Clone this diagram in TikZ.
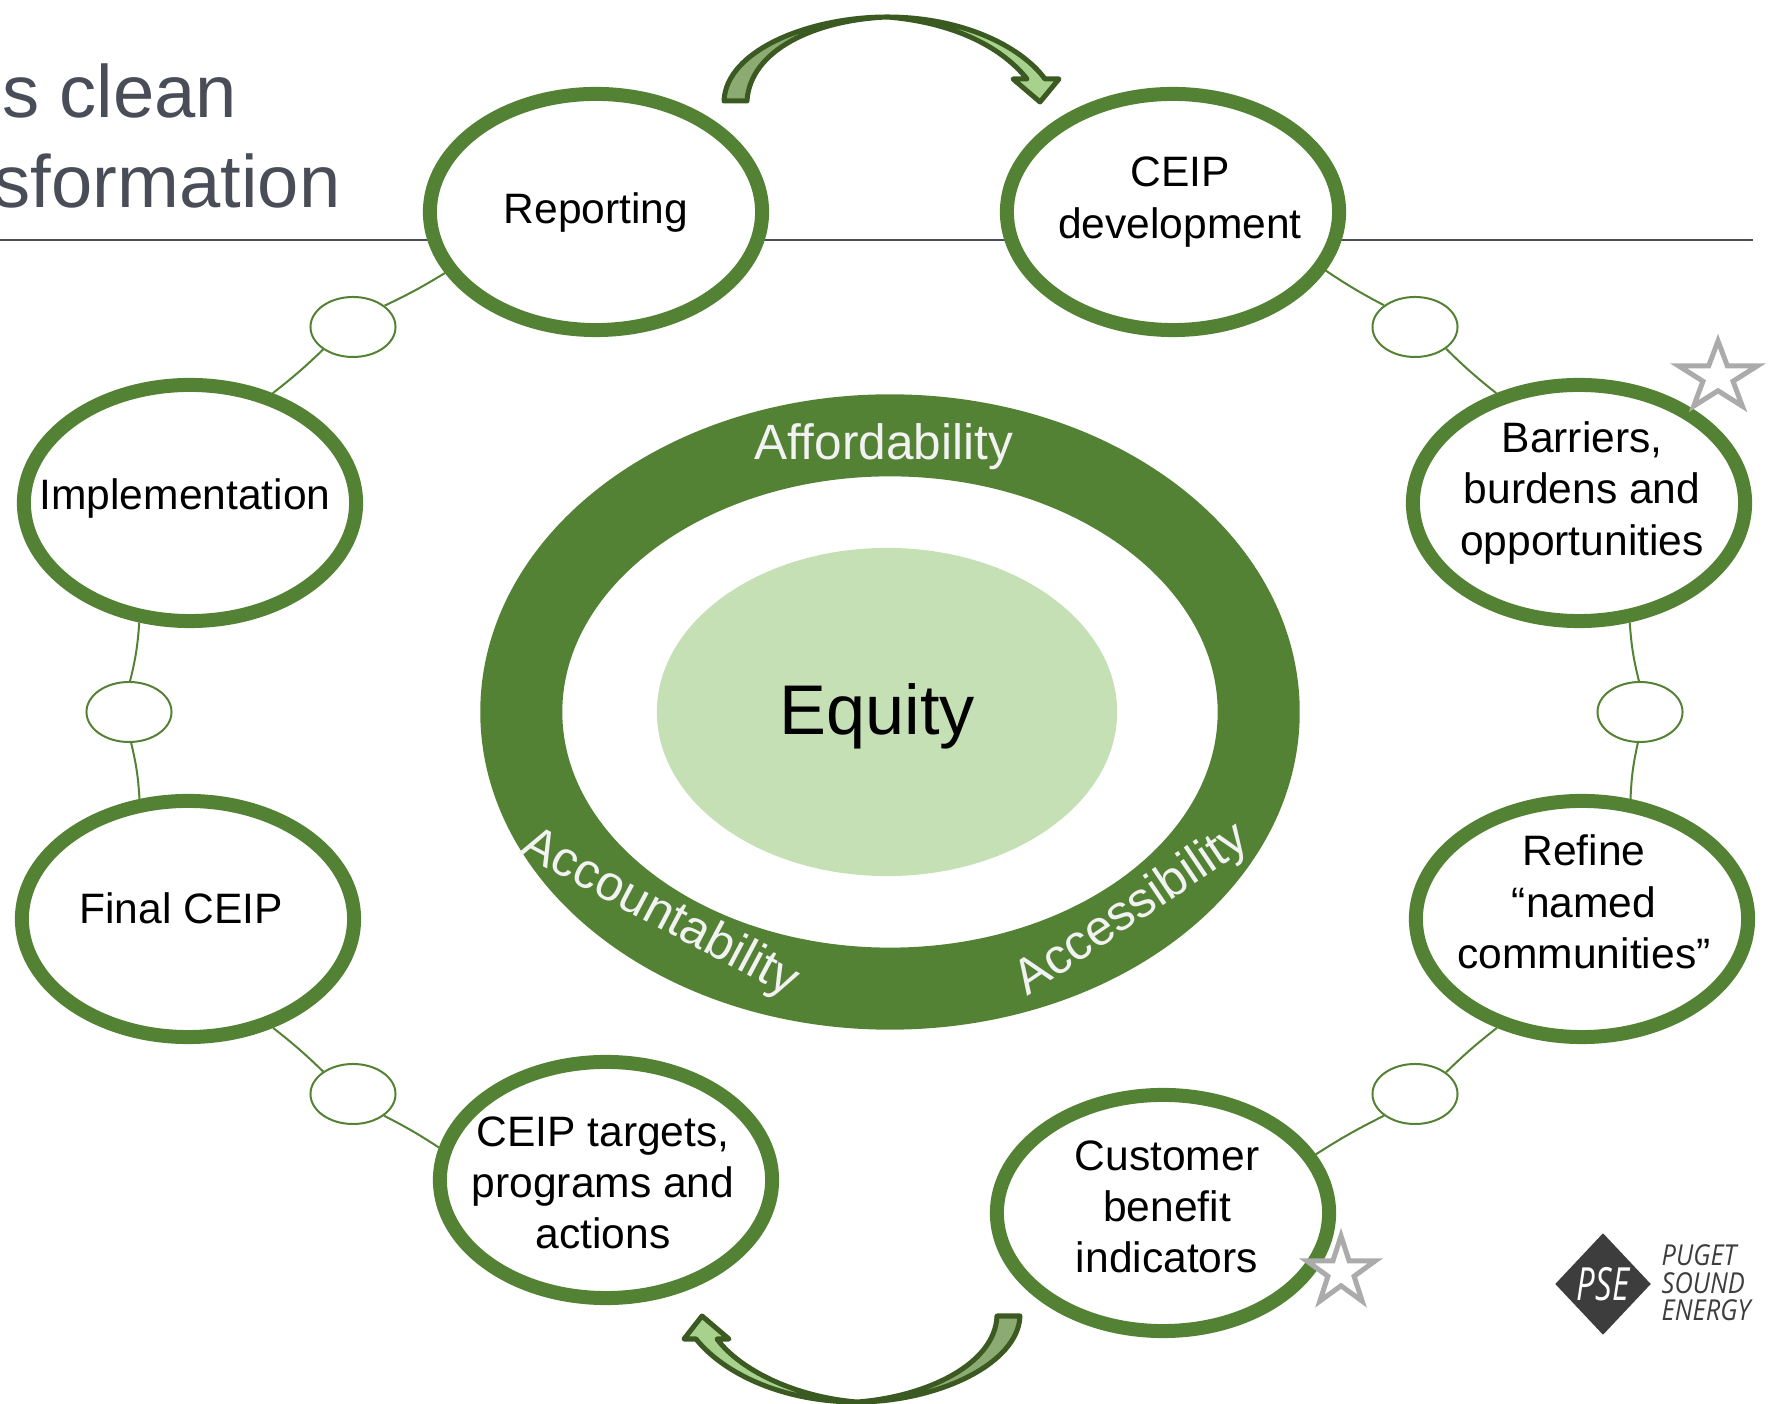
\documentclass[tikz,border=0pt]{standalone}
\usepackage{fontspec}
\setmainfont{Liberation Sans}
\newfontfamily\logofont{Open Sans}
\usepackage{tikz}
\usetikzlibrary{shapes.geometric}

\definecolor{ringgreen}{HTML}{548235}
\definecolor{palegreen}{HTML}{C5E0B4}
\definecolor{arrowdark}{HTML}{3B5A21}
\definecolor{arrowmid}{HTML}{8BAB73}
\definecolor{arrowlight}{HTML}{A9D18E}
\definecolor{titlegrey}{HTML}{494D57}
\definecolor{logogrey}{HTML}{3D3D3D}

\tikzset{
    stage/.style = {ellipse, draw = ringgreen, fill = white, line width = 0.14cm,
        minimum width = 3.32cm, minimum height = 2.36cm, inner sep = 0},
    stagetext/.style = {align = center, inner sep = 0,
        font = \fontsize{12.1}{14.6}\selectfont},
    linkoval/.style = {ellipse, draw = ringgreen, fill = white, line width = 0.02cm,
        minimum width = 0.85cm, minimum height = 0.6cm, inner sep = 0},
    linkline/.style = {draw = ringgreen, line width = 0.02cm},
    ringtext/.style = {text = white!95!black, inner sep = 0,
        font = \fontsize{14.1}{16}\selectfont},
    titletext/.style = {text = titlegrey, inner sep = 0,
        font = \fontsize{21.1}{25}\selectfont},
    starmark/.style = {star, star points = 5, star point ratio = 2.618, draw = black!33,
        fill = white, line width = 0.05cm, inner sep = 0, minimum size = 0.72cm},
    swoosh/.style = {draw = arrowdark, line width = 0.05cm, line join = round}
}

\begin{document}
\begin{tikzpicture} [x = 0.01cm, y = -0.01cm]
    \useasboundingbox (0, 0) rectangle (1772, 1404);

    % heading cut off by the slide edge
    \node[titletext, anchor = base east] (titleone) at (238, 118) {s clean};
    \node[titletext, anchor = base east] (titletwo) at (341, 208) {sformation};
    \draw[titlegrey, line width = 0.02cm] (0, 240) -- (1753, 240);

    % centre
    \node[ellipse, draw = ringgreen, line width = 0.82cm, minimum width = 7.37cm,
        minimum height = 5.53cm, inner sep = 0] (ring) at (890, 712) {};
    \node[ellipse, fill = palegreen, minimum width = 4.6cm, minimum height = 3.28cm,
        inner sep = 0] (equity) at (887, 712) {};
    \node[inner sep = 0, font = \fontsize{20}{24}\selectfont] (equitytext) at (877, 716) {Equity};
    \node[ringtext, anchor = base] (afford) at (884, 460) {Affordability};
    \node[ringtext, anchor = base west, rotate = -28] (account) at (518, 853) {Accountability};
    \node[ringtext, anchor = base west, rotate = 34] (access) at (1027, 997) {Accessibility};

    % stages
    \node[stage] (reporting) at (596, 212) {};
    \node[stage] (ceipdev) at (1173, 212) {};
    \node[stage] (barriers) at (1579, 503) {};
    \node[stage] (refine) at (1582, 919) {};
    \node[stage] (customer) at (1163, 1213) {};
    \node[stage] (targets) at (606, 1180) {};
    \node[stage] (final) at (188, 919) {};
    \node[stage] (impl) at (190, 503) {};

    \node[stagetext] (reportingtext) at (596, 213) {Reporting};
    \node[stagetext] (ceipdevtext) at (1180, 202) {CEIP\\development};
    \node[stagetext] (barrierstext) at (1582, 493) {Barriers,\\burdens and\\opportunities};
    \node[stagetext] (refinetext) at (1584, 902) {Refine\\``named\\communities''};
    \node[stagetext] (customertext) at (1167, 1207) {Customer\\benefit\\indicators};
    \node[stagetext] (targetstext) at (603, 1183) {CEIP targets,\\programs and\\actions};
    \node[stagetext] (finaltext) at (181, 908) {Final CEIP};
    \node[stagetext] (impltext) at (185, 499) {Implementation};

    % small ovals between stages
    \node[linkoval] (linka) at (353, 327) {};
    \node[linkoval] (linkb) at (1415, 327) {};
    \node[linkoval] (linkc) at (1640, 712) {};
    \node[linkoval] (linkd) at (129, 712) {};
    \node[linkoval] (linke) at (353, 1094) {};
    \node[linkoval] (linkf) at (1415, 1094) {};

    \draw[linkline] (impl.53) to[bend right = 3] (linka.217);
    \draw[linkline] (linka.34) to[bend right = 3] (reporting.202);
    \draw[linkline] (ceipdev.-21) to[bend right = 3] (linkb.145);
    \draw[linkline] (linkb.-35) to[bend right = 3] (barriers.127);
    \draw[linkline] (barriers.-67) to[bend right = 5] (linkc.92);
    \draw[linkline] (linkc.-94) to[bend right = 5] (refine.68);
    \draw[linkline] (refine.232) to[bend right = 3] (linkf.35);
    \draw[linkline] (linkf.215) to[bend right = 3] (customer.21);
    \draw[linkline] (targets.169) to[bend right = 3] (linke.-35);
    \draw[linkline] (linke.143) to[bend right = 3] (final.-52);
    \draw[linkline] (final.112) to[bend right = 5] (linkd.-86);
    \draw[linkline] (linkd.88) to[bend right = 5] (impl.247);

    % stars
    \node[starmark, xscale = 1.15] (starone) at (1718, 377) {};
    \node[starmark] (startwo) at (1341, 1272) {};

    % top arrow
    \fill[arrowmid] (724, 101) .. controls (726, 50) and (810, 17) .. (887, 17)
        .. controls (815, 20) and (750, 50) .. (747, 101) -- cycle;
    \fill[arrowlight] (887, 17) .. controls (960, 17) and (1020, 45) .. (1045, 79)
        -- (1059, 79) -- (1040, 102) -- (1013, 79) -- (1027, 79)
        .. controls (1000, 45) and (950, 22) .. (887, 17) -- cycle;
    \draw[swoosh] (724, 101) .. controls (726, 50) and (810, 17) .. (887, 17)
        .. controls (960, 17) and (1020, 45) .. (1045, 79)
        -- (1059, 79) -- (1040, 102) -- (1013, 79) -- (1027, 79)
        .. controls (1000, 45) and (950, 22) .. (887, 17)
        .. controls (815, 20) and (750, 50) .. (747, 101) -- cycle;

    % bottom arrow
    \fill[arrowmid] (1020, 1316) .. controls (1018, 1365) and (935, 1402) .. (857, 1402)
        .. controls (925, 1397) and (995, 1365) .. (997, 1316) -- cycle;
    \fill[arrowlight] (857, 1402) .. controls (785, 1402) and (725, 1375) .. (696, 1339)
        -- (684, 1339) -- (702, 1316) -- (729, 1339) -- (717, 1339)
        .. controls (740, 1370) and (795, 1397) .. (857, 1402) -- cycle;
    \draw[swoosh] (1020, 1316) .. controls (1018, 1365) and (935, 1402) .. (857, 1402)
        .. controls (785, 1402) and (725, 1375) .. (696, 1339)
        -- (684, 1339) -- (702, 1316) -- (729, 1339) -- (717, 1339)
        .. controls (740, 1370) and (795, 1397) .. (857, 1402)
        .. controls (925, 1397) and (995, 1365) .. (997, 1316) -- cycle;

    % logo
    \node[diamond, fill = logogrey, aspect = 0.94, minimum width = 0.96cm,
        minimum height = 1.02cm, inner sep = 0, text = white,
        font = \logofont\itshape\fontsize{13}{15}\selectfont] (logo) at (1603, 1284)
        {\scalebox{0.72}[1]{PSE}};
    \node[anchor = west, align = left, inner sep = 0, text = logogrey,
        font = \logofont\itshape\fontsize{8.2}{7.8}\selectfont] (logotext) at (1661, 1283)
        {\scalebox{0.88}[1]{PUGET}\\\scalebox{0.88}[1]{SOUND}\\\scalebox{0.88}[1]{ENERGY}};
\end{tikzpicture}
\end{document}
